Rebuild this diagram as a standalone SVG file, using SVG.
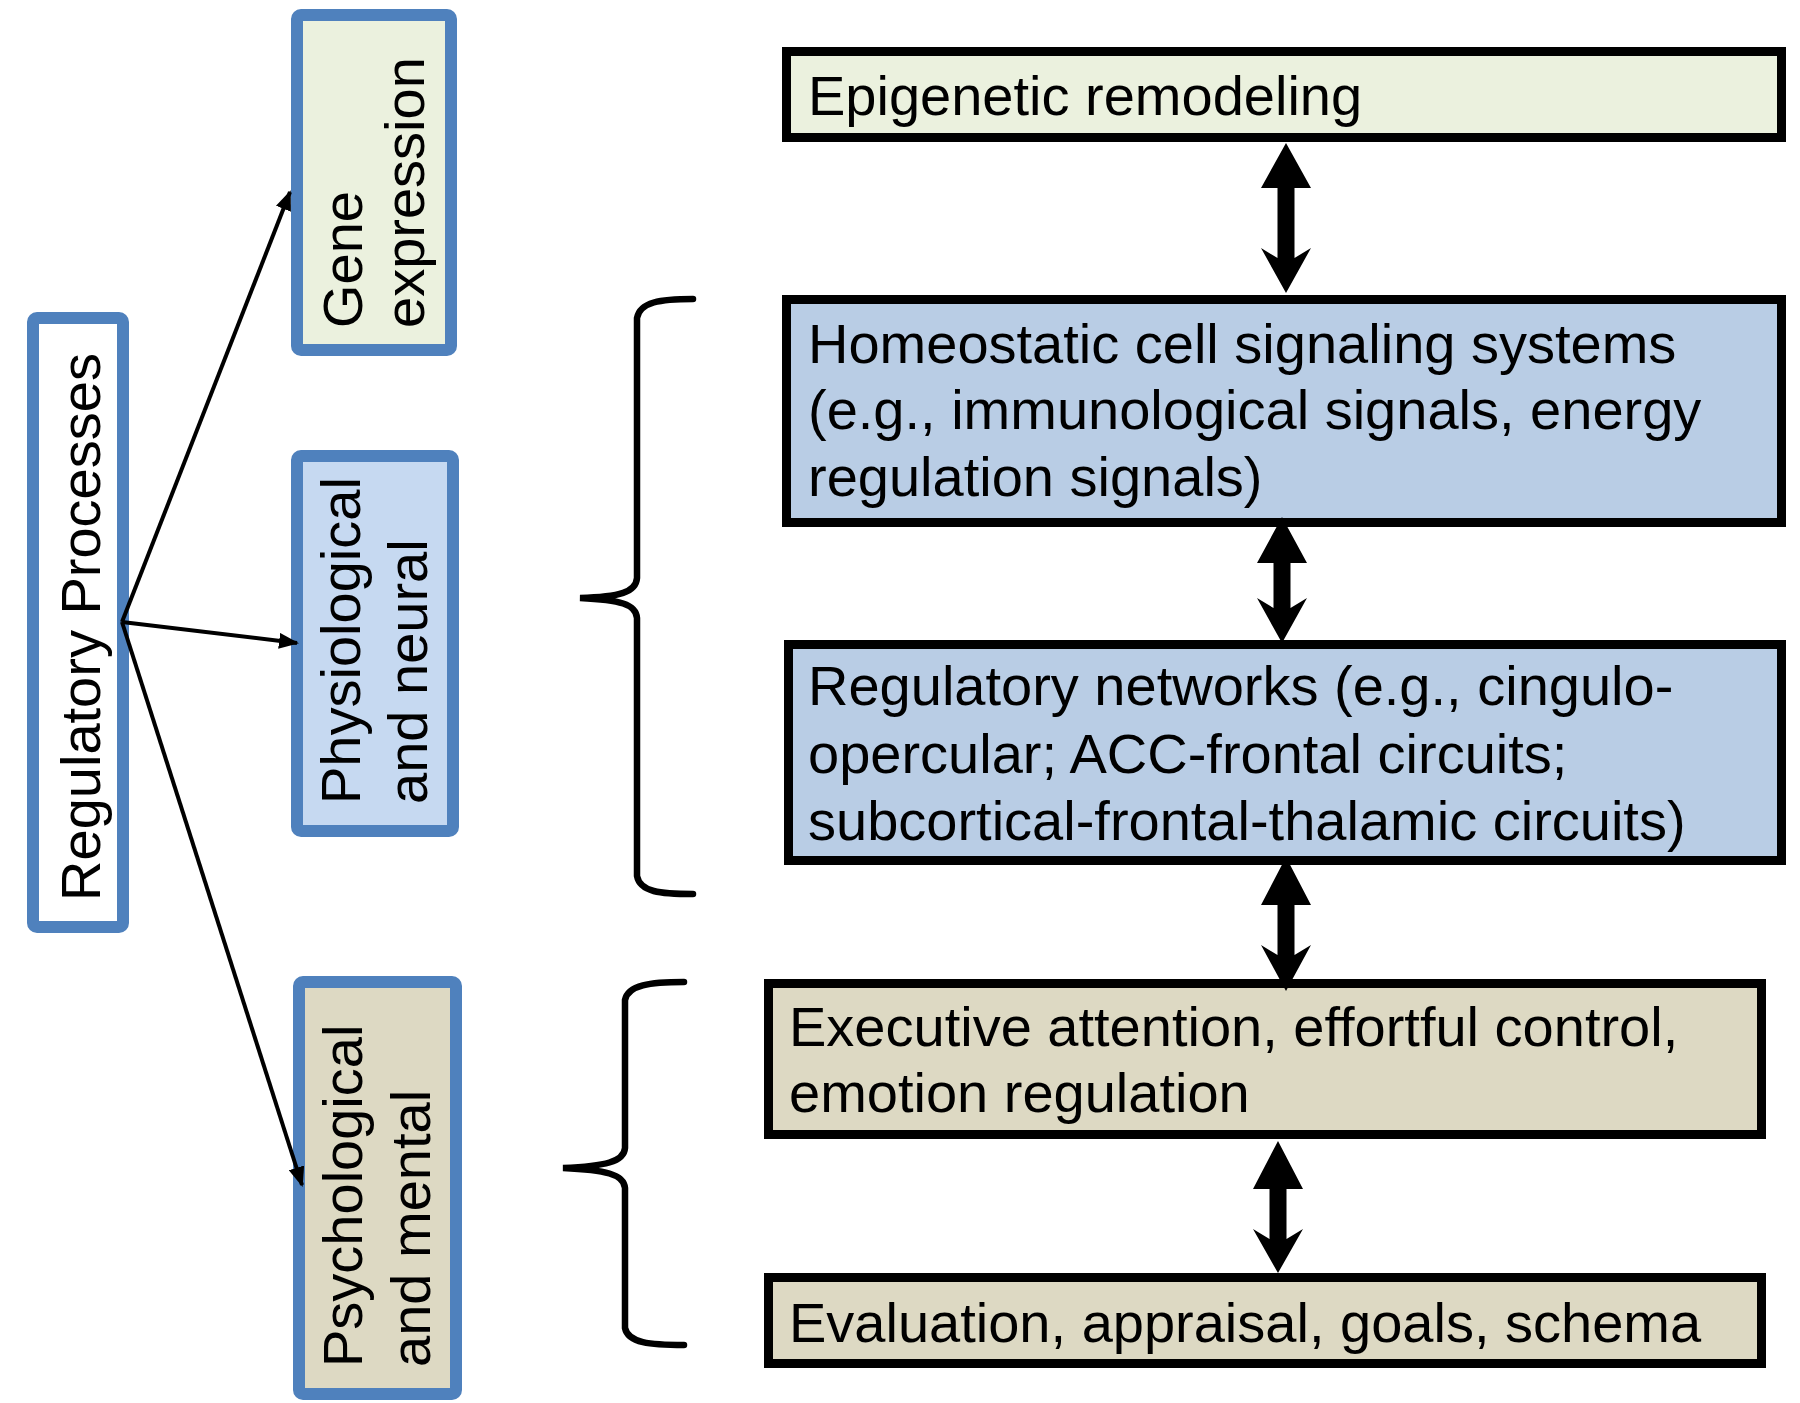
<svg xmlns="http://www.w3.org/2000/svg" width="1800" height="1403" viewBox="0 0 1800 1403">
<defs>
<style>
text{font-family:"Liberation Sans",Arial,sans-serif;font-size:56px;fill:#000}
.blue{stroke:#4F81BD;stroke-width:12}
.blk{stroke:#000;stroke-width:9}
.thin{stroke:#000;stroke-width:4;fill:none;marker-end:url(#ah)}
.brace{stroke:#000;stroke-width:6.5;fill:none;stroke-linecap:round}
.dbl{fill:#000}
</style>
<marker id="ah" markerUnits="userSpaceOnUse" viewBox="0 0 20 16" refX="18" refY="8" markerWidth="20" markerHeight="16" orient="auto">
<path d="M0,0 L20,8 L0,16 Z" fill="#000"/>
</marker>
</defs>
<rect width="1800" height="1403" fill="#fff"/>

<g id="regulatory-processes">
<rect class="blue" x="33" y="318" width="90" height="609" rx="4" fill="#fff"/>
<text transform="translate(100,627) rotate(-90)" text-anchor="middle">Regulatory Processes</text>
</g>

<g id="gene-expression">
<rect class="blue" x="297" y="15" width="154" height="335" rx="4" fill="#EBF1DE"/>
<text transform="translate(362,328) rotate(-90)">Gene</text>
<text transform="translate(424,328) rotate(-90)">expression</text>
</g>

<g id="physiological-neural">
<rect class="blue" x="297" y="456" width="156" height="375" rx="4" fill="#C6D9F1"/>
<text transform="translate(360,804) rotate(-90)">Physiological</text>
<text transform="translate(427,804) rotate(-90)">and neural</text>
</g>

<g id="psychological-mental">
<rect class="blue" x="299" y="982" width="157" height="412" rx="4" fill="#DDD9C3"/>
<text transform="translate(362,1367) rotate(-90)">Psychological</text>
<text transform="translate(430,1367) rotate(-90)">and mental</text>
</g>

<g id="epigenetic">
<rect class="blk" x="786.5" y="51.5" width="995" height="86" fill="#EBF1DE"/>
<text x="808" y="115">Epigenetic remodeling</text>
</g>

<g id="homeostatic">
<rect class="blk" x="786.5" y="299.5" width="995" height="223" fill="#B9CDE5"/>
<text x="808" y="363">Homeostatic cell signaling systems</text>
<text x="808" y="429">(e.g., immunological signals, energy</text>
<text x="808" y="496">regulation signals)</text>
</g>

<g id="regulatory-networks">
<rect class="blk" x="788.5" y="644.5" width="993" height="216" fill="#B9CDE5"/>
<text x="808" y="705">Regulatory networks (e.g., cingulo-</text>
<text x="808" y="773">opercular; ACC-frontal circuits;</text>
<text x="808" y="840">subcortical-frontal-thalamic circuits)</text>
</g>

<g id="executive">
<rect class="blk" x="768.5" y="983.5" width="993" height="151" fill="#DDD9C3"/>
<text x="789" y="1046">Executive attention, effortful control,</text>
<text x="789" y="1112">emotion regulation</text>
</g>

<g id="evaluation">
<rect class="blk" x="768.5" y="1277.5" width="993" height="86" fill="#DDD9C3"/>
<text x="789" y="1342">Evaluation, appraisal, goals, schema</text>
</g>

<g id="connectors">
<line class="thin" x1="122" y1="622" x2="290" y2="192"/>
<line class="thin" x1="122" y1="622" x2="297" y2="643"/>
<line class="thin" x1="122" y1="622" x2="302" y2="1185"/>

<path class="dbl" d="M1286,143 L1311,188 L1294.5,188 L1294.5,258 L1311,248 L1286,293 L1261,248 L1277.5,258 L1277.5,188 L1261,188 Z"/>
<path class="dbl" d="M1282,517 L1307,563 L1290.5,563 L1290.5,608 L1307,598 L1282,643 L1257,598 L1273.5,608 L1273.5,563 L1257,563 Z"/>
<path class="dbl" d="M1286,857 L1311,905 L1294.5,905 L1294.5,955 L1311,945 L1286,991 L1261,945 L1277.5,955 L1277.5,905 L1261,905 Z"/>
<path class="dbl" d="M1278,1141 L1303,1189 L1286.5,1189 L1286.5,1239 L1303,1229 L1278,1273 L1253,1229 L1269.5,1239 L1269.5,1189 L1253,1189 Z"/>

<path class="brace" d="M693,299 C660,299 640,302 637,318 L637,578 C636,592 620,597 580,598 C620,600 636,604 637,618 L637,876 C640,892 660,894 693,894"/>
<path class="brace" d="M684,982 C650,982 628,985 625,1000 L625,1148 C624,1162 605,1166 563,1168 C605,1170 624,1174 625,1188 L625,1328 C628,1343 650,1345 684,1345"/>
</g>
</svg>
